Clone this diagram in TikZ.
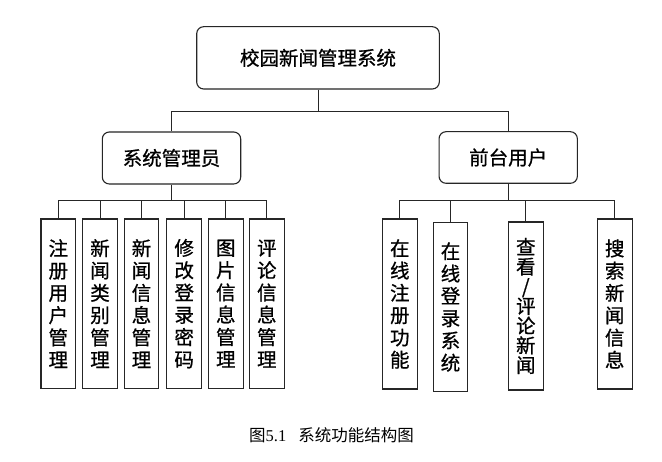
\documentclass[tikz,border=0pt]{standalone}
\usepackage{fontspec}
\newfontfamily\cjk[FakeBold=0.8]{Noto Sans CJK SC}
\newfontfamily\cjkcap{Noto Sans CJK SC}
\newfontfamily\capserif{Liberation Serif}
\begin{document}
\begin{tikzpicture}[x=1pt,y=-1pt,
  box/.style={draw=black!85, line width=1.1pt, inner sep=0pt, fill=white,
    font=\cjk\fontsize{19.5}{22.3}\selectfont},
  rbox/.style={box, rounded corners=7pt},
  leaf/.style={box, align=center, minimum width=34.7pt},
  conn/.style={draw=black!85, line width=1pt}]
\useasboundingbox (0,0) rectangle (662,462);
\fill[white] (0,0) rectangle (662,462);

% top levels
\node[rbox, minimum width=242.6pt, minimum height=62.3pt] (root) at (318,57.85) {校园新闻管理系统};
\node[rbox, minimum width=138.4pt, minimum height=52pt] (adm) at (171.5,158) {系统管理员};
\node[rbox, minimum width=138.3pt, minimum height=51.6pt] (usr) at (508.2,157.5) {前台用户};

% left leaves
\node[leaf, minimum height=169.3pt] (l1) at (58.3,303.65) {注\\册\\用\\户\\管\\理};
\node[leaf, minimum height=169.3pt] (l2) at (100,303.65) {新\\闻\\类\\别\\管\\理};
\node[leaf, minimum height=169.3pt] (l3) at (141.5,303.65) {新\\闻\\信\\息\\管\\理};
\node[leaf, minimum height=169.3pt] (l4) at (184.2,303.65) {修\\改\\登\\录\\密\\码};
\node[leaf, minimum height=169.3pt] (l5) at (225.8,303.65) {图\\片\\信\\息\\管\\理};
\node[leaf, minimum height=169.3pt] (l6) at (266.8,303.65) {评\\论\\信\\息\\管\\理};

% right leaves
\node[leaf, minimum height=170pt] (r1) at (399.8,304) {在\\线\\注\\册\\功\\能};
\node[leaf, minimum height=169.4pt] (r2) at (450.5,307) {在\\线\\登\\录\\系\\统};
\node[leaf, minimum height=168pt, font=\cjk\fontsize{19.5}{19.7}\selectfont] (r3) at (525.8,306) {查\\看\\/\\评\\论\\新\\闻};
\node[leaf, minimum height=170pt] (r4) at (614.7,304) {搜\\索\\新\\闻\\信\\息};

% bus coordinates
\coordinate (tbus) at (318,112);
\coordinate (lbus) at (171.5,200.7);
\coordinate (rbus) at (508.2,200.7);

% connectors
\draw[conn] (root.south) -- (tbus);
\draw[conn] (adm.north) |- (tbus);
\draw[conn] (usr.north) |- (tbus);

\draw[conn] (adm.south) -- (lbus);
\foreach \n in {l1,l2,l3,l4,l5,l6} \draw[conn] (\n.north) |- (lbus);

\draw[conn] (usr.south) -- (rbus);
\foreach \n in {r1,r2,r3,r4} \draw[conn] (\n.north) |- (rbus);

% caption
\node[inner sep=0pt] (cap) at (331.5,435) {\cjkcap\fontsize{16.5}{18}\selectfont 图{\capserif 5.1}\hspace{12pt}系统功能结构图};
\end{tikzpicture}
\end{document}
